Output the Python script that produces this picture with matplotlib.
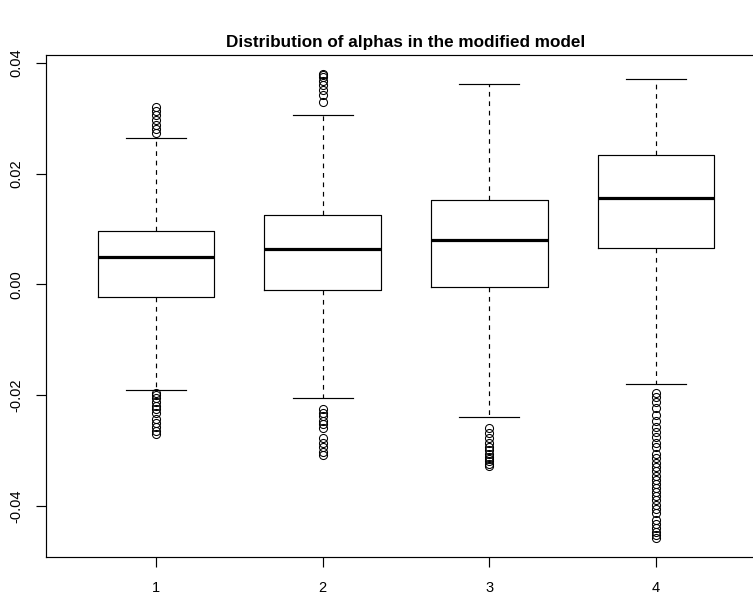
import matplotlib
matplotlib.use("Agg")
import matplotlib.pyplot as plt

plt.rcParams["font.family"] = ["Liberation Sans", "DejaVu Sans"]

groups = ["1", "2", "3", "4"]
medians = [0.0050, 0.0064, 0.0081, 0.0157]
q1 = [-0.0022, -0.0010, -0.0005, 0.0066]
q3 = [0.0097, 0.0126, 0.0153, 0.0234]
whis_lo = [-0.0190, -0.0205, -0.0240, -0.0180]
whis_hi = [0.0265, 0.0307, 0.0363, 0.0372]
outliers = [
    [0.0320, 0.0314, 0.0306, 0.0298, 0.0289, 0.0280, 0.0274,
     -0.0196, -0.0200, -0.0206, -0.0213, -0.0220, -0.0226, -0.0233,
     -0.0243, -0.0250, -0.0258, -0.0264, -0.0270],
    [0.0330, 0.0342, 0.0352, 0.0361, 0.0368, 0.0374, 0.0378, 0.0381,
     -0.0226, -0.0233, -0.0238, -0.0246, -0.0253, -0.0260, -0.0278,
     -0.0286, -0.0293, -0.0303, -0.0309],
    [-0.0260, -0.0268, -0.0278, -0.0286, -0.0293, -0.0300, -0.0306,
     -0.0311, -0.0316, -0.0320, -0.0324, -0.0329],
    [-0.0196, -0.0203, -0.0213, -0.0223, -0.0236, -0.0246, -0.0258,
     -0.0266, -0.0276, -0.0286, -0.0293, -0.0306, -0.0313, -0.0323,
     -0.0330, -0.0338, -0.0346, -0.0353, -0.0360, -0.0368, -0.0376,
     -0.0383, -0.0390, -0.0398, -0.0406, -0.0413, -0.0426, -0.0433,
     -0.0440, -0.0448, -0.0453, -0.0459],
]

stats = []
for i, g in enumerate(groups):
    stats.append({
        "label": g,
        "med": medians[i],
        "q1": q1[i],
        "q3": q3[i],
        "whislo": whis_lo[i],
        "whishi": whis_hi[i],
        "fliers": outliers[i],
    })

W, H = 753, 594
fig = plt.figure(figsize=(W / 100, H / 100), dpi=100)
# plot region runs a little past the right edge of the picture
left, right, top, bottom = 46, 766, 55, 557
ax = fig.add_axes([left / W, 1 - bottom / H, (right - left) / W, (bottom - top) / H])

ax.bxp(
    stats,
    positions=[1, 2, 3, 4],
    widths=0.7,
    showfliers=True,
    boxprops={"color": "black", "linewidth": 0.85},
    medianprops={"color": "black", "linewidth": 2.3, "solid_capstyle": "butt"},
    whiskerprops={"color": "black", "linewidth": 0.85, "linestyle": (0, (4, 4))},
    capprops={"color": "black", "linewidth": 0.85},
    flierprops={"marker": "o", "markerfacecolor": "none",
                "markeredgecolor": "black", "markersize": 5.8,
                "markeredgewidth": 0.75},
    capwidths=0.36,
)

# R-style 4% padding around the data range
all_vals = whis_hi + whis_lo + [v for f in outliers for v in f]
lo, hi = min(all_vals), max(all_vals)
padding = 0.04 * (hi - lo)
ax.set_ylim(lo - padding, hi + padding)
ax.set_xlim(0.34, 4.66)
ax.set_yticks([-0.04, -0.02, 0.00, 0.02, 0.04])
ax.set_yticklabels(["-0.04", "-0.02", "0.00", "0.02", "0.04"],
                   rotation=90, va="center")
ax.tick_params(axis="both", direction="out", length=7, width=0.85,
               labelsize=10.5, colors="black")
ax.tick_params(axis="x", pad=10)
ax.tick_params(axis="y", pad=9)
for s in ax.spines.values():
    s.set_linewidth(0.85)

fig.text(406 / W, 1 - 42 / H, "Distribution of alphas in the modified model",
         ha="center", va="center", fontsize=12.3, fontweight="bold")

fig.savefig("out.png", dpi=100)
